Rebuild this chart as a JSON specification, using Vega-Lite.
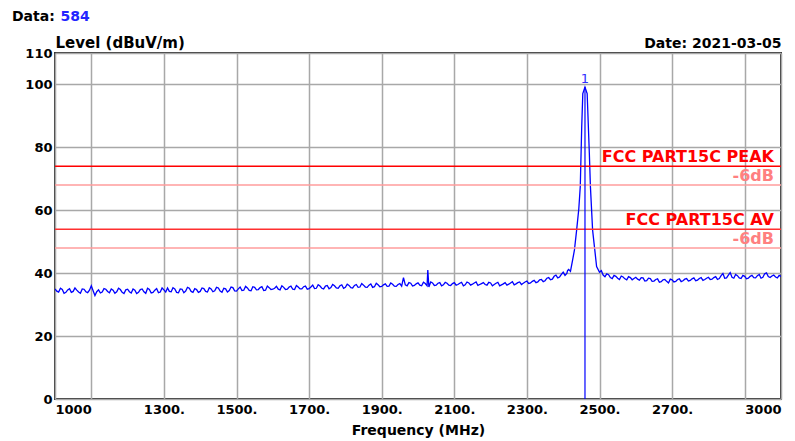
{
"$schema": "https://vega.github.io/schema/vega-lite/v6.json",
"width": 726, "height": 346,
"autosize": {"type": "none"},
"padding": {"left": 55, "top": 53, "right": 14, "bottom": 42},
"background": "white",
"config": {"font": "DejaVu Sans", "view": {"stroke": "#333333", "strokeWidth": 2}},
"title": {"text": "Data:", "anchor": "start", "frame": "group", "fontSize": 14, "fontWeight": "bold", "color": "#000000", "dx": -43, "dy": 15, "offset": 0},
"datasets": {
"trace": [
{"f":1000,"v":35.0},{"f":1005,"v":34.3},{"f":1010,"v":34.0},{"f":1015,"v":35.2},{"f":1020,"v":34.8},{"f":1025,"v":33.6},{"f":1030,"v":33.9},{"f":1035,"v":34.7},{"f":1040,"v":35.1},{"f":1045,"v":33.9},{"f":1050,"v":34.2},{"f":1055,"v":35.3},{"f":1060,"v":34.6},{"f":1065,"v":34.0},{"f":1070,"v":33.6},{"f":1075,"v":35.0},{"f":1080,"v":34.9},{"f":1085,"v":34.1},{"f":1090,"v":33.8},{"f":1095,"v":34.6},
{"f":1100,"v":36.0},{"f":1105,"v":34.4},{"f":1110,"v":32.9},{"f":1115,"v":34.1},{"f":1120,"v":34.7},{"f":1125,"v":33.7},{"f":1130,"v":34.0},{"f":1135,"v":35.1},{"f":1140,"v":34.9},{"f":1145,"v":34.2},{"f":1150,"v":33.8},{"f":1155,"v":35.0},{"f":1160,"v":34.6},{"f":1165,"v":33.6},{"f":1170,"v":34.1},{"f":1175,"v":35.2},{"f":1180,"v":34.8},{"f":1185,"v":33.9},{"f":1190,"v":33.5},{"f":1195,"v":34.7},
{"f":1200,"v":34.9},{"f":1205,"v":34.1},{"f":1210,"v":33.7},{"f":1215,"v":35.0},{"f":1220,"v":34.6},{"f":1225,"v":33.5},{"f":1230,"v":33.9},{"f":1235,"v":34.8},{"f":1240,"v":35.0},{"f":1245,"v":34.1},{"f":1250,"v":33.6},{"f":1255,"v":35.2},{"f":1260,"v":34.8},{"f":1265,"v":33.7},{"f":1270,"v":33.9},{"f":1275,"v":34.6},{"f":1280,"v":35.1},{"f":1285,"v":33.8},{"f":1290,"v":34.0},{"f":1295,"v":35.3},
{"f":1300,"v":34.7},{"f":1305,"v":34.0},{"f":1310,"v":35.3},{"f":1315,"v":34.2},{"f":1320,"v":34.1},{"f":1325,"v":35.4},{"f":1330,"v":35.0},{"f":1335,"v":33.9},{"f":1340,"v":33.8},{"f":1345,"v":35.0},{"f":1350,"v":34.9},{"f":1355,"v":33.8},{"f":1360,"v":34.3},{"f":1365,"v":35.5},{"f":1370,"v":35.2},{"f":1375,"v":34.2},{"f":1380,"v":33.9},{"f":1385,"v":35.1},{"f":1390,"v":34.8},{"f":1395,"v":33.9},
{"f":1400,"v":34.2},{"f":1405,"v":35.3},{"f":1410,"v":35.1},{"f":1415,"v":34.2},{"f":1420,"v":34.0},{"f":1425,"v":35.4},{"f":1430,"v":35.0},{"f":1435,"v":34.1},{"f":1440,"v":34.4},{"f":1445,"v":35.5},{"f":1450,"v":35.3},{"f":1455,"v":34.3},{"f":1460,"v":33.9},{"f":1465,"v":35.2},{"f":1470,"v":35.0},{"f":1475,"v":34.0},{"f":1480,"v":34.5},{"f":1485,"v":35.6},{"f":1490,"v":35.4},{"f":1495,"v":34.4},
{"f":1500,"v":34.3},{"f":1505,"v":35.0},{"f":1510,"v":35.6},{"f":1515,"v":34.5},{"f":1520,"v":34.6},{"f":1525,"v":35.8},{"f":1530,"v":35.3},{"f":1535,"v":34.5},{"f":1540,"v":34.4},{"f":1545,"v":35.7},{"f":1550,"v":35.5},{"f":1555,"v":34.7},{"f":1560,"v":34.8},{"f":1565,"v":35.4},{"f":1570,"v":35.7},{"f":1575,"v":34.5},{"f":1580,"v":34.6},{"f":1585,"v":35.9},{"f":1590,"v":35.4},{"f":1595,"v":34.8},
{"f":1600,"v":34.9},{"f":1605,"v":35.2},{"f":1610,"v":35.8},{"f":1615,"v":34.9},{"f":1620,"v":34.7},{"f":1625,"v":36.0},{"f":1630,"v":35.5},{"f":1635,"v":34.8},{"f":1640,"v":34.9},{"f":1645,"v":35.6},{"f":1650,"v":35.9},{"f":1655,"v":34.9},{"f":1660,"v":34.8},{"f":1665,"v":36.1},{"f":1670,"v":35.6},{"f":1675,"v":35.0},{"f":1680,"v":35.0},{"f":1685,"v":35.7},{"f":1690,"v":35.9},{"f":1695,"v":34.9},
{"f":1700,"v":35.1},{"f":1705,"v":35.6},{"f":1710,"v":36.2},{"f":1715,"v":35.1},{"f":1720,"v":35.2},{"f":1725,"v":36.3},{"f":1730,"v":35.9},{"f":1735,"v":35.2},{"f":1740,"v":35.0},{"f":1745,"v":35.9},{"f":1750,"v":36.1},{"f":1755,"v":35.0},{"f":1760,"v":35.4},{"f":1765,"v":36.4},{"f":1770,"v":36.0},{"f":1775,"v":35.3},{"f":1780,"v":35.2},{"f":1785,"v":36.0},{"f":1790,"v":36.3},{"f":1795,"v":35.2},
{"f":1800,"v":35.5},{"f":1805,"v":36.5},{"f":1810,"v":36.1},{"f":1815,"v":35.4},{"f":1820,"v":35.3},{"f":1825,"v":36.1},{"f":1830,"v":36.4},{"f":1835,"v":35.5},{"f":1840,"v":35.6},{"f":1845,"v":36.7},{"f":1850,"v":36.2},{"f":1855,"v":35.6},{"f":1860,"v":35.5},{"f":1865,"v":36.2},{"f":1870,"v":36.6},{"f":1875,"v":35.5},{"f":1880,"v":35.7},{"f":1885,"v":36.8},{"f":1890,"v":36.3},{"f":1895,"v":35.7},
{"f":1900,"v":35.8},{"f":1905,"v":36.3},{"f":1910,"v":36.6},{"f":1915,"v":35.8},{"f":1920,"v":35.9},{"f":1925,"v":36.9},{"f":1930,"v":36.5},{"f":1935,"v":35.9},{"f":1940,"v":35.8},{"f":1945,"v":36.4},{"f":1950,"v":36.7},{"f":1955,"v":35.9},{"f":1960,"v":38.6},{"f":1965,"v":36.3},{"f":1970,"v":36.0},{"f":1975,"v":37.0},{"f":1980,"v":36.8},{"f":1985,"v":35.9},{"f":1990,"v":36.1},{"f":1995,"v":36.6},
{"f":2000,"v":36.9},{"f":2005,"v":36.2},{"f":2010,"v":36.0},{"f":2015,"v":37.1},{"f":2020,"v":36.7},{"f":2025,"v":36.0},{"f":2027,"v":41.0},{"f":2030,"v":35.6},{"f":2035,"v":37.2},{"f":2040,"v":36.9},{"f":2045,"v":36.1},{"f":2050,"v":36.2},{"f":2055,"v":36.8},{"f":2060,"v":37.0},{"f":2065,"v":36.0},{"f":2070,"v":36.3},{"f":2075,"v":37.1},{"f":2080,"v":36.8},{"f":2085,"v":36.2},{"f":2090,"v":36.1},{"f":2095,"v":36.7},
{"f":2100,"v":37.0},{"f":2105,"v":36.2},{"f":2110,"v":36.4},{"f":2115,"v":36.8},{"f":2120,"v":37.1},{"f":2125,"v":36.0},{"f":2130,"v":36.3},{"f":2135,"v":37.2},{"f":2140,"v":36.9},{"f":2145,"v":36.2},{"f":2150,"v":36.5},{"f":2155,"v":36.9},{"f":2160,"v":37.2},{"f":2165,"v":36.1},{"f":2170,"v":36.4},{"f":2175,"v":36.7},{"f":2180,"v":37.0},{"f":2185,"v":36.4},{"f":2190,"v":36.2},{"f":2195,"v":37.1},
{"f":2200,"v":36.9},{"f":2205,"v":36.0},{"f":2210,"v":36.4},{"f":2215,"v":36.8},{"f":2220,"v":37.1},{"f":2225,"v":36.0},{"f":2230,"v":36.3},{"f":2235,"v":36.6},{"f":2240,"v":37.0},{"f":2245,"v":36.2},{"f":2250,"v":36.5},{"f":2255,"v":36.9},{"f":2260,"v":37.3},{"f":2265,"v":36.3},{"f":2270,"v":36.6},{"f":2275,"v":37.0},{"f":2280,"v":37.2},{"f":2285,"v":36.4},{"f":2290,"v":36.8},{"f":2295,"v":37.2},
{"f":2300,"v":37.5},{"f":2305,"v":36.7},{"f":2310,"v":36.9},{"f":2315,"v":37.4},{"f":2320,"v":37.7},{"f":2325,"v":37.0},{"f":2330,"v":37.2},{"f":2335,"v":37.9},{"f":2340,"v":38.0},{"f":2345,"v":37.3},{"f":2350,"v":37.6},{"f":2355,"v":38.4},{"f":2360,"v":38.6},{"f":2365,"v":37.9},{"f":2370,"v":38.1},{"f":2375,"v":39.0},{"f":2380,"v":39.4},{"f":2385,"v":38.5},{"f":2390,"v":38.8},{"f":2395,"v":39.6},
{"f":2400,"v":40.3},{"f":2405,"v":39.3},{"f":2410,"v":39.9},{"f":2412,"v":40.8},{"f":2415,"v":41.2},{"f":2420,"v":40.6},{"f":2426,"v":44.2},{"f":2431,"v":47.4},{"f":2437,"v":53.7},{"f":2443,"v":60.5},{"f":2447,"v":67.5},{"f":2451,"v":86.5},
{"f":2454,"v":97.1},{"f":2460,"v":99.2},{"f":2466,"v":97.1},{"f":2472,"v":78.1},{"f":2475,"v":67.5},{"f":2481,"v":53.7},{"f":2487,"v":47.4},{"f":2492,"v":42.1},{"f":2500,"v":40.3},{"f":2505,"v":40.8},
{"f":2510,"v":39.4},{"f":2515,"v":38.9},{"f":2520,"v":39.8},{"f":2525,"v":39.5},{"f":2530,"v":38.6},{"f":2535,"v":38.3},{"f":2540,"v":39.3},{"f":2545,"v":39.0},{"f":2550,"v":38.4},{"f":2555,"v":38.0},{"f":2560,"v":39.1},{"f":2565,"v":38.8},{"f":2570,"v":38.2},{"f":2575,"v":37.9},{"f":2580,"v":38.9},{"f":2585,"v":38.6},{"f":2590,"v":37.9},{"f":2595,"v":38.3},
{"f":2600,"v":38.7},{"f":2605,"v":38.1},{"f":2610,"v":37.8},{"f":2615,"v":38.6},{"f":2620,"v":38.5},{"f":2625,"v":37.5},{"f":2630,"v":37.6},{"f":2635,"v":38.4},{"f":2640,"v":38.3},{"f":2645,"v":37.4},{"f":2650,"v":37.5},{"f":2655,"v":38.0},{"f":2660,"v":38.2},{"f":2665,"v":37.1},{"f":2670,"v":37.3},{"f":2675,"v":37.9},{"f":2680,"v":38.0},{"f":2685,"v":37.4},{"f":2690,"v":36.9},{"f":2695,"v":38.1},
{"f":2700,"v":37.9},{"f":2705,"v":37.2},{"f":2710,"v":37.4},{"f":2715,"v":38.0},{"f":2720,"v":38.2},{"f":2725,"v":37.3},{"f":2730,"v":37.6},{"f":2735,"v":38.1},{"f":2740,"v":38.3},{"f":2745,"v":37.5},{"f":2750,"v":37.7},{"f":2755,"v":38.2},{"f":2760,"v":38.5},{"f":2765,"v":37.6},{"f":2770,"v":37.8},{"f":2775,"v":38.3},{"f":2780,"v":38.6},{"f":2785,"v":37.7},{"f":2790,"v":38.0},{"f":2795,"v":38.4},
{"f":2800,"v":38.7},{"f":2805,"v":38.0},{"f":2810,"v":38.1},{"f":2815,"v":38.6},{"f":2820,"v":38.9},{"f":2825,"v":38.0},{"f":2830,"v":38.3},{"f":2835,"v":39.2},{"f":2840,"v":39.9},{"f":2845,"v":38.4},{"f":2850,"v":38.5},{"f":2855,"v":39.4},{"f":2860,"v":40.2},{"f":2865,"v":38.7},{"f":2870,"v":38.4},{"f":2875,"v":39.6},{"f":2880,"v":39.2},{"f":2885,"v":38.5},{"f":2890,"v":38.3},{"f":2895,"v":39.3},
{"f":2900,"v":39.0},{"f":2905,"v":38.2},{"f":2910,"v":38.4},{"f":2915,"v":39.0},{"f":2920,"v":39.3},{"f":2925,"v":38.6},{"f":2930,"v":38.5},{"f":2935,"v":39.2},{"f":2940,"v":39.6},{"f":2945,"v":38.4},{"f":2950,"v":38.7},{"f":2955,"v":39.8},{"f":2960,"v":40.1},{"f":2965,"v":38.9},{"f":2970,"v":38.6},{"f":2975,"v":39.1},{"f":2980,"v":39.4},{"f":2985,"v":38.8},{"f":2990,"v":38.5},{"f":2995,"v":39.3},{"f":3000,"v":39.0}
],
"limits": [
{"name":"PEAK","level":74,"label":"FCC PART15C PEAK"},
{"name":"PEAK -6dB","level":68,"label":"-6dB"},
{"name":"AV","level":54,"label":"FCC PART15C AV"},
{"name":"AV -6dB","level":48,"label":"-6dB"}
],
"marker": [{"f":2460,"level":99.2,"label":"1"}]
},
"resolve": {"axis": {"x": "independent", "y": "independent"}, "scale": {"color": "independent"}},
"layer": [
{"data": {"name": "trace"},
 "mark": {"type": "line", "color": "#0000ff", "strokeWidth": 1.3, "clip": true},
 "encoding": {
  "x": {"field": "f", "type": "quantitative", "scale": {"domain": [1000, 3000], "nice": false, "zero": false},
   "axis": {"orient": "bottom", "values": [1000, 1100, 1300, 1500, 1700, 1900, 2100, 2300, 2500, 2700, 2900, 3000],
    "labelExpr": "datum.value == 1100 || datum.value == 2900 ? '' : (datum.value == 1000 || datum.value == 3000 ? '' + datum.value : datum.value + '.')",
    "labelFlush": true, "labelOverlap": false, "grid": true, "gridColor": "#a8a8a8", "gridWidth": 1.5, "ticks": false, "domain": false,
    "labelFont": "DejaVu Sans", "labelFontSize": 13, "labelFontWeight": "bold", "labelColor": "#000000", "labelPadding": 4,
    "title": "Frequency (MHz)", "titleFont": "DejaVu Sans", "titleFontSize": 14, "titleFontWeight": "bold", "titleColor": "#000000", "titleY": 35, "titleBaseline": "alphabetic"}},
  "y": {"field": "v", "type": "quantitative", "scale": {"domain": [0, 110], "nice": false, "zero": true},
   "axis": {"orient": "left", "values": [0, 20, 40, 60, 80, 100, 110], "grid": true, "gridColor": "#a8a8a8", "gridWidth": 1.5, "ticks": false, "domain": false,
    "labelFont": "DejaVu Sans", "labelFontSize": 13, "labelFontWeight": "bold", "labelColor": "#000000", "labelPadding": 3, "labelOverlap": false,
    "title": "Level (dBuV/m)", "titleAngle": 0, "titleX": 0, "titleY": -6, "titleAlign": "left", "titleBaseline": "alphabetic",
    "titleFont": "DejaVu Sans", "titleFontSize": 15, "titleFontWeight": "bold", "titleColor": "#000000"}}
 }},
{"data": {"name": "limits"},
 "mark": {"type": "rule", "strokeWidth": 1.5},
 "encoding": {
  "y": {"field": "level", "type": "quantitative",
   "axis": {"orient": "right", "domain": false, "ticks": false, "labels": false, "grid": false,
    "title": "584", "titleAngle": 0, "titleX": -721, "titleY": -33, "titleAlign": "left", "titleBaseline": "alphabetic",
    "titleColor": "#2424ff", "titleFontSize": 14, "titleFontWeight": "bold", "titleFont": "DejaVu Sans"}},
  "color": {"field": "name", "type": "nominal", "scale": {"domain": ["PEAK", "PEAK -6dB", "AV", "AV -6dB"], "range": ["#ff0000", "#ff9c9c", "#ff3030", "#ff9c9c"]}, "legend": null}
 }},
{"data": {"name": "marker"},
 "mark": {"type": "rule", "color": "#0000ff", "strokeWidth": 1.2},
 "encoding": {
  "x": {"field": "f", "type": "quantitative",
   "axis": {"orient": "top", "domain": false, "ticks": false, "labels": false, "grid": false,
    "title": "Date: 2021-03-05", "titleX": 726, "titleY": -6, "titleAlign": "right", "titleBaseline": "alphabetic",
    "titleFont": "DejaVu Sans", "titleFontSize": 14, "titleFontWeight": "bold", "titleColor": "#000000"}},
  "y": {"field": "level", "type": "quantitative", "axis": null},
  "y2": {"datum": 0}
 }},
{"data": {"name": "limits"},
 "mark": {"type": "text", "align": "right", "baseline": "alphabetic", "dx": -7, "dy": -4, "fontSize": 16, "fontWeight": "bold"},
 "encoding": {
  "x": {"datum": 3000, "type": "quantitative", "axis": null},
  "y": {"field": "level", "type": "quantitative", "axis": null},
  "text": {"field": "label"},
  "color": {"field": "name", "type": "nominal", "scale": {"domain": ["PEAK", "PEAK -6dB", "AV", "AV -6dB"], "range": ["#ff0000", "#ff8080", "#ff0000", "#ff8080"]}, "legend": null}
 }},
{"data": {"name": "marker"},
 "mark": {"type": "text", "baseline": "alphabetic", "dy": -4, "fontSize": 13, "color": "#3030ff"},
 "encoding": {
  "x": {"field": "f", "type": "quantitative", "axis": null},
  "y": {"field": "level", "type": "quantitative", "axis": null},
  "text": {"field": "label"}
 }}
]
}
